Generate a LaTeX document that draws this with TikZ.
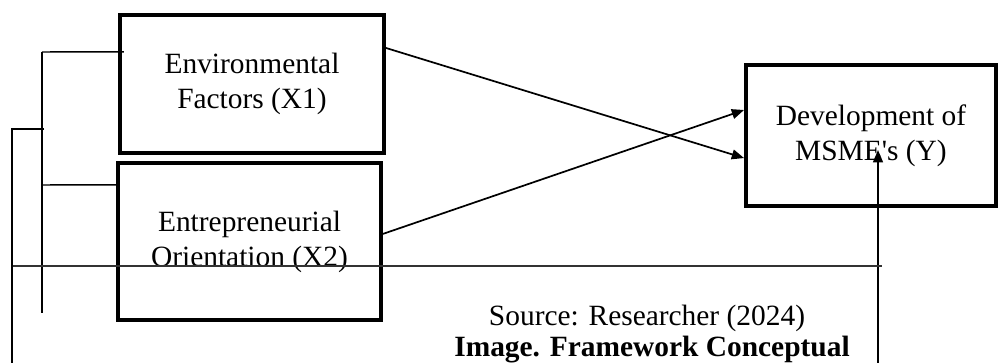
\documentclass[tikz,border=0pt]{standalone}
\usepackage{fontspec}
\setmainfont{Liberation Serif}
\usetikzlibrary{arrows.meta,positioning}
\tikzset{
  doboz/.style={draw,line width=1.6pt,align=center,inner sep=0pt,
    font=\fontsize{12}{14.3}\selectfont},
  nyil/.style={line width=0.7pt,-{Triangle[length=5pt,width=4pt]}},
  vonal/.style={line width=0.6pt},
  felirat/.style={anchor=base,inner sep=0pt,font=\fontsize{12}{14.3}\selectfont},
}
\begin{document}
\begin{tikzpicture}[x=0.408pt,y=-0.408pt]
  \useasboundingbox (0,0) rectangle (1000,363);
  % boxes
  \node[doboz,minimum width=107.7pt,minimum height=56.3pt] (kornyezet) at (252,84)
    {Environmental\\Factors (X1)};
  \node[doboz,minimum width=107.3pt,minimum height=64.1pt] (orient) at (249.5,241.5)
    {Entrepreneurial\\Orientation (X2)};
  \node[doboz,minimum width=102pt,minimum height=57.5pt] (fejl) at (871,135.5)
    {Development of\\MSME\textquotesingle s (Y)};
  % arrows
  \draw[nyil] ([yshift=14.7pt]kornyezet.east) -- ([yshift=-9.2pt]fejl.west);
  \draw[nyil] ([yshift=3.1pt]orient.east) -- ([yshift=10.4pt]fejl.west);
  \coordinate (lent) at (878,363);
  \coordinate (csucs) at (878,150);
  \draw[nyil] (lent) -- (csucs);
  % bracket on the left
  \coordinate (k1) at (42,52);
  \coordinate (k2) at (42,313);
  \coordinate (k3) at (42,185);
  \draw[vonal] (k1) -- (k2);
  \draw[vonal] (k1) -- ([yshift=13.1pt,xshift=2.4pt]kornyezet.west);
  \draw[vonal] (k3) -- ([yshift=23.1pt,xshift=0.8pt]orient.west);
  \coordinate (kulso) at (12,363);
  \coordinate (kozep) at (44,129);
  \draw[vonal] (kozep) -- (12,129) -- (kulso);
  % long line
  \coordinate (v1) at (13,266);
  \coordinate (v2) at (882,266);
  \draw[line width=0.5pt,black!80] (v1) -- (v2);
  % captions
  \node[felirat] (forras) at (647,326) {Source: Researcher (2024)};
  \node[felirat,font=\fontsize{12}{14.3}\selectfont\bfseries] (cim) at (652,356)
    {Image. Framework Conceptual};
\end{tikzpicture}
\end{document}
